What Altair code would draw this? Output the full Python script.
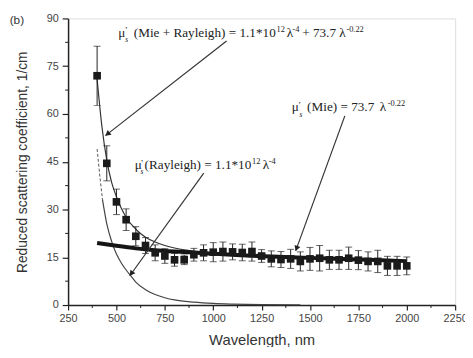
import math
import altair as alt
import pandas as pd

# ---------------- data ----------------
wl = list(range(400, 2001, 50))
mu = [72, 44.5, 32.4, 26.8, 21.6, 18.7, 16.4, 15.4, 14.2, 14.2, 15.8, 16.4, 16.6,
      16.8, 16.7, 16.5, 16.8, 15.4, 14.5, 14.3, 14.5, 13.7, 14.5, 14.7, 14.2, 14.2,
      14.7, 14.1, 13.7, 13.7, 12.3, 12.3, 12.3]
err = [9.3, 5.5, 4, 3.4, 3, 2.5, 2.5, 2.3, 2, 1.5, 2, 2.5, 3, 3, 2.5, 2.6, 3, 2,
       2.5, 2.5, 3, 3, 3.6, 4, 3, 3, 3.5, 3, 3, 3.5, 3, 3, 2.8]

mie_wl = [400, 500, 600, 700, 800, 900, 1000, 1200, 1400, 1600, 1800, 2000]
mie_val = [19.5, 18.6, 17.8, 17.2, 16.8, 16.5, 16.1, 15.5, 15.0, 14.6, 14.2, 13.8]

mr_wl = [400, 425, 450, 475, 500, 550, 600, 650, 700, 750, 800, 850, 900, 1000, 1100, 1200, 1300]
mr_val = [71, 56, 45.5, 38.5, 34, 27.5, 23.8, 21.3, 19.8, 18.7, 17.9, 17.3, 16.9, 16.4, 16.0, 15.6, 15.3]

ray_wl = [400, 416, 428, 450, 475, 500, 525, 550, 575, 600, 650, 700, 750, 800, 900, 1000, 1100, 1250, 1450]
ray_val = [49, 39.5, 33, 25.5, 20, 16, 13.2, 11, 9.1, 7.2, 4.8, 3.3, 2.3, 1.6, 0.9, 0.5, 0.3, 0.15, 0.1]
ray_dashed_until = 428

x_ticks = list(range(250, 2251, 250))
x_minor = [375 + 250 * i for i in range(8)]
y_ticks = list(range(0, 91, 15))
y_minor = [7.5 + 15 * i for i in range(6)]

# annotation text pieces (main text, superscripts, subscripts) at data positions
piece_text = [
    "μ", "’", "s", "(Mie + Rayleigh) = 1.1*10", "12", "λ", "-4", "+ 73.7 λ", "-0.22",
    "μ", "’", "s", "(Rayleigh) = 1.1*10", "12", "λ", "-4",
    "μ", "’", "s", "(Mie) = 73.7", "λ", "-0.22",
]
piece_x = [
    509.5, 542.6, 545.2, 589.4, 1327.3, 1379.8, 1408.8, 1459.7, 1688.0,
    594.5, 624.0, 624.0, 645.4, 1200.1, 1256.1, 1286.6,
    1405.2, 1438.3, 1445.8, 1485.1, 1860.0, 1902.0,
]
piece_y = [
    84.3, 85.3, 82.7, 84.3, 85.8, 84.3, 85.8, 84.3, 85.8,
    42.7, 43.7, 41.2, 42.7, 44.2, 42.7, 44.2,
    60.8, 61.9, 58.9, 60.8, 60.8, 62.4,
]
piece_kind = [
    "main", "prime", "sub", "main", "sup", "main", "sup", "main", "sup",
    "main", "prime", "sub", "main", "sup", "main", "sup",
    "main", "prime", "sub", "main", "main", "sup",
]

arrow_x1 = [1069, 951, 1680]
arrow_y1 = [82.9, 41.4, 59.4]
arrow_x2 = [443, 569, 1426]
arrow_y2 = [53.2, 9.2, 17.0]

# ---------------- layout ----------------
W, H = 393, 291
XD, YD = [250, 2250], [0, 90]
sx = W / (XD[1] - XD[0])
sy = H / (YD[1] - YD[0])

pts = pd.DataFrame({"wl": wl, "mu": mu, "lo": [m - e for m, e in zip(mu, err)],
                    "hi": [m + e for m, e in zip(mu, err)]})
mie = pd.DataFrame({"wl": mie_wl, "v": mie_val})
mr = pd.DataFrame({"wl": mr_wl, "v": mr_val})
ray = pd.DataFrame({"wl": ray_wl, "v": ray_val})
pieces = pd.DataFrame({"x": piece_x, "y": piece_y, "t": piece_text, "k": piece_kind})
arr = pd.DataFrame({"x": arrow_x1, "y": arrow_y1, "x2": arrow_x2, "y2": arrow_y2})

heads = []
for a in arr.itertuples():
    dx = (a.x2 - a.x) * sx
    dy = -(a.y2 - a.y) * sy
    L = math.hypot(dx, dy)
    ux, uy = dx / L, dy / L
    ang = math.degrees(math.atan2(dx, -dy)) % 360
    back = 3.5
    heads.append({"x": a.x2 - ux * back / sx, "y": a.y2 + uy * back / sy, "ang": ang})
heads = pd.DataFrame(heads)

xs = alt.Scale(domain=XD, nice=False)
ys = alt.Scale(domain=YD, nice=False)

xaxis = alt.Axis(values=x_ticks, format="d", title="Wavelength, nm", grid=False,
                 labelFont="Liberation Sans", labelFontSize=11, labelColor="#444",
                 tickSize=5, tickColor="#222", tickWidth=1.2, domainColor="#222",
                 domainWidth=1.5, labelPadding=3, titleFont="Liberation Sans",
                 titleFontSize=15, titleFontWeight="normal", titleColor="#333",
                 titlePadding=9, labelFlush=False)
yaxis = alt.Axis(values=y_ticks, format="d", title="Reduced scattering coefficient, 1/cm",
                 grid=False, labelFont="Liberation Sans", labelFontSize=11,
                 labelColor="#444", tickSize=6, tickColor="#222", tickWidth=1.2,
                 domainColor="#222", domainWidth=1.5, labelPadding=4,
                 titleFont="Liberation Sans", titleFontSize=14,
                 titleFontWeight="normal", titleColor="#333", titlePadding=17,
                 labelFlush=False)

ray_dash = alt.Chart(ray[ray.wl <= ray_dashed_until]).mark_line(
    color="#555", strokeWidth=1, strokeDash=[3, 2], interpolate="monotone"
).encode(x=alt.X("wl:Q", scale=xs, axis=xaxis), y=alt.Y("v:Q", scale=ys, axis=yaxis))
ray_line = alt.Chart(ray[ray.wl >= ray_dashed_until]).mark_line(
    color="#444", strokeWidth=1.2, interpolate="monotone"
).encode(x=alt.X("wl:Q", scale=xs), y=alt.Y("v:Q", scale=ys))
mr_line = alt.Chart(mr).mark_line(color="#333", strokeWidth=1.2, interpolate="monotone").encode(
    x=alt.X("wl:Q", scale=xs), y=alt.Y("v:Q", scale=ys))
mie_line = alt.Chart(mie).mark_line(color="#151515", strokeWidth=4, interpolate="monotone").encode(
    x=alt.X("wl:Q", scale=xs), y=alt.Y("v:Q", scale=ys))

ebar = alt.Chart(pts).mark_rule(color="#222", strokeWidth=1).encode(
    x=alt.X("wl:Q", scale=xs), y=alt.Y("lo:Q", scale=ys), y2="hi:Q")
cap_lo = alt.Chart(pts).mark_tick(color="#222", orient="horizontal", size=7, thickness=1).encode(
    x=alt.X("wl:Q", scale=xs), y=alt.Y("lo:Q", scale=ys))
cap_hi = alt.Chart(pts).mark_tick(color="#222", orient="horizontal", size=7, thickness=1).encode(
    x=alt.X("wl:Q", scale=xs), y=alt.Y("hi:Q", scale=ys))
points = alt.Chart(pts).mark_point(shape="square", filled=True, size=60, color="#1a1a1a",
                                   opacity=1).encode(
    x=alt.X("wl:Q", scale=xs), y=alt.Y("mu:Q", scale=ys))

arrows = alt.Chart(arr).mark_rule(color="#333", strokeWidth=1.2).encode(
    x=alt.X("x:Q", scale=xs), y=alt.Y("y:Q", scale=ys), x2="x2:Q", y2="y2:Q")
arrow_heads = alt.Chart(heads).mark_point(shape="triangle", filled=True, size=40,
                                          color="#222", opacity=1).encode(
    x=alt.X("x:Q", scale=xs), y=alt.Y("y:Q", scale=ys),
    angle=alt.Angle("ang:Q", scale=None))


def piece_layer(kind, size, style="normal"):
    return alt.Chart(pieces[pieces.k == kind]).mark_text(
        align="left", baseline="alphabetic", font="Liberation Serif",
        fontSize=size, fontStyle=style, color="#222"
    ).encode(x=alt.X("x:Q", scale=xs), y=alt.Y("y:Q", scale=ys), text="t:N")


txt_main = piece_layer("main", 13.4)
txt_sup = piece_layer("sup", 8.5)
txt_sub = piece_layer("sub", 7.5, "italic")
txt_prime = piece_layer("prime", 9)

xminor = alt.Chart(pd.DataFrame({"m": x_minor})).mark_rule(color="#222", strokeWidth=1).encode(
    x=alt.X("m:Q", scale=xs), y=alt.value(H), y2=alt.value(H + 3))
yminor = alt.Chart(pd.DataFrame({"m": y_minor})).mark_rule(color="#222", strokeWidth=1).encode(
    y=alt.Y("m:Q", scale=ys), x=alt.value(0), x2=alt.value(-3))

panel = alt.Chart(pd.DataFrame({"t": ["(b)"]})).mark_text(
    font="Liberation Sans", fontSize=12, color="#333", align="center", baseline="middle"
).encode(x=alt.value(-52), y=alt.value(2), text="t:N")

chart = alt.layer(
    ray_dash, ray_line, mr_line, mie_line, ebar, cap_lo, cap_hi, points,
    arrows, arrow_heads, txt_main, txt_sup, txt_sub, txt_prime, xminor, yminor, panel
).properties(
    width=W, height=H,
    padding={"left": 61, "top": 8, "right": 10, "bottom": 40},
    autosize=alt.AutoSizeParams(type="none"),
).configure_view(stroke=None).configure(background="white")

chart.save("out.html", embed_options={"renderer": "svg", "actions": False})
